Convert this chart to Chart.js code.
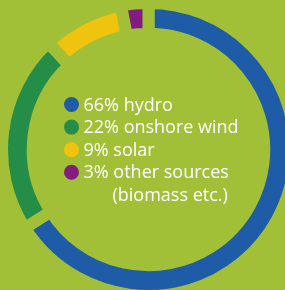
<!DOCTYPE html>
<html>
<head>
<meta charset="utf-8">
<script src="https://cdn.jsdelivr.net/npm/chart.js@4"></script>
<style>
  html, body { margin: 0; padding: 0; width: 285px; height: 290px; overflow: hidden; background: #a1c038; }
  #mix { position: absolute; left: -4px; top: -3px; }
</style>
</head>
<body>
<canvas id="mix" width="305" height="305"></canvas>
<script>
// --- DATA ---
const shares = [66, 22, 9, 3];
const sources = ['hydro', 'onshore wind', 'solar', 'other sources'];
const notes = ['', '', '', '(biomass etc.)'];
const colours = ['#1e5ca7', '#248d47', '#f0c30e', '#821c83'];
const bg = '#a1c038';

// --- CENTRE LEGEND PLUGIN ---
const centreLegend = {
    id: 'centreLegend',
    afterDraw(chart) {
        const ctx = chart.ctx;
        const arc = chart.getDatasetMeta(0).data[0];
        const cx = arc.x, cy = arc.y;
        const lineH = 22.6;
        let y = cy - 45;
        ctx.save();
        ctx.font = '18px "Open Sans"';
        ctx.textBaseline = 'middle';
        shares.forEach((v, i) => {
            // dot
            ctx.beginPath();
            ctx.arc(cx - 77, y, 7.5, 0, Math.PI * 2);
            ctx.fillStyle = colours[i];
            ctx.fill();
            ctx.fillStyle = '#ffffff';
            ctx.fillText(v + '% ' + sources[i], cx - 65, y + 1);
            y += lineH;
            if (notes[i]) {
                ctx.fillText(notes[i], cx - 36, y + 1);
                y += lineH;
            }
        });
        ctx.restore();
    }
};

// gaps between the slices come from a background-coloured border
new Chart(document.getElementById('mix'), {
    type: 'doughnut',
    data: {
        labels: sources,
        datasets: [{
            data: shares,
            backgroundColor: colours,
            borderColor: bg,
            borderWidth: 12,
            borderAlign: 'center'
        }]
    },
    options: {
        responsive: false,
        animation: false,
        cutout: '79%',
        rotation: 0,
        plugins: { legend: { display: false }, tooltip: { enabled: false } }
    },
    plugins: [centreLegend]
});
</script>
</body>
</html>
